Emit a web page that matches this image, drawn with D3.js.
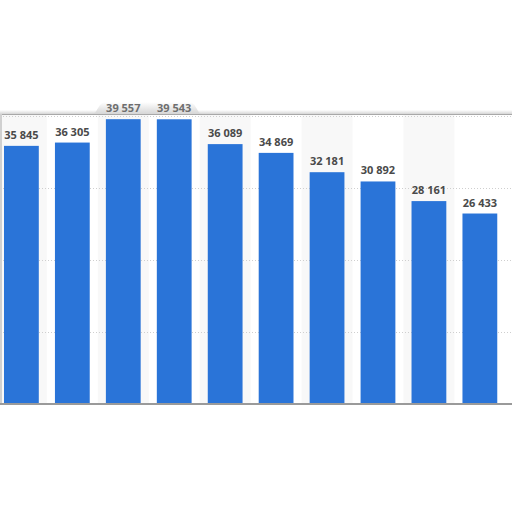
<!DOCTYPE html>
<html>
<head>
<meta charset="utf-8">
<script src="https://cdn.jsdelivr.net/npm/d3@7"></script>
<style>
  html, body { margin: 0; padding: 0; background: #fff; }
  svg { display: block; }
</style>
</head>
<body>
<svg id="chart" width="512" height="512"></svg>
<script>
const categories = ["1", "2", "3", "4", "5", "6", "7", "8", "9", "10"];
const values = [35845, 36305, 39557, 39543, 36089, 34869, 32181, 30892, 28161, 26433];
const yTicks = [10000, 20000, 30000, 40000];

const W = 512, H = 512;
const baseY = 403.5, topY = 116;
const svg = d3.select("#chart");

const x = d3.scaleBand().domain(categories)
  .range([-4.07, 505.33]).paddingInner(0.317).paddingOuter(0.1585);
const y = d3.scaleLinear().domain([0, 40000]).range([baseY, topY]);
const fmt = d3.formatLocale({decimal: ".", thousands: " ", grouping: [3], currency: ["", ""]}).format(",d");
const step = x.step(), bw = x.bandwidth();

const defs = svg.append("defs");
const g1 = defs.append("linearGradient").attr("id", "shade").attr("x1", 0).attr("y1", 0).attr("x2", 0).attr("y2", 1);
g1.append("stop").attr("offset", "0%").attr("stop-color", "#ffffff");
g1.append("stop").attr("offset", "100%").attr("stop-color", "#d6d6d6");

// alternating column bands
svg.append("g").selectAll("rect").data(categories.filter((d, i) => i % 2 === 0)).join("rect")
  .attr("x", d => x(d) - (step - bw) / 2)
  .attr("y", topY - 2)
  .attr("width", step)
  .attr("height", baseY - topY + 2)
  .attr("fill", "#f8f8f8");

// gridlines
svg.append("g").selectAll("line").data(yTicks).join("line")
  .attr("x1", 0).attr("x2", W)
  .attr("y1", d => Math.round(y(d)) + 0.5).attr("y2", d => Math.round(y(d)) + 0.5)
  .attr("stroke", "#cfcfcf").attr("stroke-width", 1).attr("stroke-dasharray", "1,2");

// top frame shade + line
svg.append("rect").attr("x", 0).attr("y", 110).attr("width", W).attr("height", 4).attr("fill", "url(#shade)");
// bump behind the two top labels
const topIdx = [2, 3];
const bx0 = x(categories[topIdx[0]]) - 6, bx1 = x(categories[topIdx[1]]) + bw + 3;
svg.append("path")
  .attr("d", `M${bx0 - 8},114 C${bx0 - 2},114 ${bx0 - 2},102 ${bx0 + 6},102 L${bx1 - 6},102 C${bx1 + 2},102 ${bx1 + 2},114 ${bx1 + 8},114 Z`)
  .attr("fill", "url(#shade)");
svg.append("line").attr("x1", 0).attr("x2", W).attr("y1", 114.5).attr("y2", 114.5)
  .attr("stroke", "#a8a8a8").attr("stroke-width", 1.2);

// left edge
svg.append("line").attr("x1", 1).attr("x2", 1).attr("y1", 114).attr("y2", baseY + 1)
  .attr("stroke", "#d0d0d0").attr("stroke-width", 2);

// bars
svg.append("g").selectAll("rect").data(values).join("rect")
  .attr("x", (d, i) => x(categories[i]))
  .attr("y", d => y(d))
  .attr("width", bw)
  .attr("height", d => baseY - y(d))
  .attr("fill", "#2a74d8");

// baseline axis
svg.append("line").attr("x1", 0).attr("x2", W).attr("y1", baseY + 0.5).attr("y2", baseY + 0.5)
  .attr("stroke", "#9a9a9a").attr("stroke-width", 2);

// value labels
svg.append("g").selectAll("text").data(values).join("text")
  .attr("x", (d, i) => x(categories[i]) + bw / 2)
  .attr("y", d => y(d) - 7)
  .attr("text-anchor", "middle")
  .attr("font-family", "Open Sans, Liberation Sans, Arial, sans-serif")
  .attr("font-weight", "bold")
  .attr("font-size", "11px")
  .attr("fill", (d, i) => topIdx.includes(i) ? "#6e6e6e" : "#4a4a4a")
  .text(d => fmt(d));
</script>
</body>
</html>
